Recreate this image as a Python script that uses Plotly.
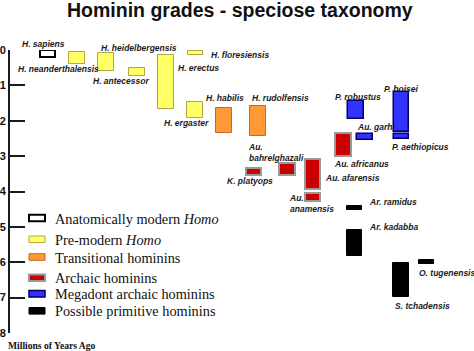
import plotly.graph_objects as go

# ---------------- data ----------------
species = [
    "H. sapiens", "H. neanderthalensis", "H. heidelbergensis", "H. antecessor",
    "H. erectus", "H. floresiensis", "H. ergaster", "H. habilis", "H. rudolfensis",
    "K. platyops", "Au. bahrelghazali", "Au. afarensis", "Au. anamensis", "Au. africanus",
    "P. robustus", "Au. garhi", "P. boisei", "P. aethiopicus",
    "Ar. ramidus", "Ar. kadabba", "O. tugenensis", "S. tchadensis",
]
grade = [
    "modern", "premodern", "premodern", "premodern",
    "premodern", "premodern", "premodern", "transitional", "transitional",
    "archaic", "archaic", "archaic", "archaic", "archaic",
    "megadont", "megadont", "megadont", "megadont",
    "primitive", "primitive", "primitive", "primitive",
]
# first and last appearance, millions of years ago
start_mya = [0.00, 0.05, 0.08, 0.50, 0.14, 0.02, 1.48, 1.63, 1.58,
             3.33, 3.20, 3.08, 4.04, 2.35,
             1.43, 2.38, 1.20, 2.37,
             4.40, 5.10, 5.93, 6.03]
end_mya = [0.20, 0.40, 0.60, 0.73, 1.68, 0.15, 1.93, 2.35, 2.42,
           3.52, 3.52, 3.92, 4.26, 3.01,
           1.96, 2.53, 2.33, 2.52,
           4.52, 5.82, 6.05, 6.99]

grade_order = ["modern", "premodern", "transitional", "archaic", "megadont", "primitive"]
grade_names = ["Anatomically modern <i>Homo</i>", "Pre-modern <i>Homo</i>",
               "Transitional hominins", "Archaic hominins",
               "Megadont archaic hominins", "Possible primitive hominins"]
y_ticks = [0, 1, 2, 3, 4, 5, 6, 7, 8]
y_title = "Millions of Years Ago"
title = "Hominin grades - speciose taxonomy"

# ---------------- layout / styling (pixel-based placement) ----------------
W, H = 474, 351
ML, MR, MT, MB = 10, 0, 50, 18
PW, PH = W - ML - MR, H - MT - MB

def px(xp):
    return (xp - ML) / PW

def py(yp):
    return (H - MB - yp) / PH

# horizontal column of each species (x axis is in pixel units)
col_x = [47.7, 77.0, 106.0, 137.0, 166.2, 195.5, 195.2, 224.2, 258.2,
         253.7, 287.2, 312.5, 312.5, 342.9,
         356.2, 365.0, 401.7, 401.7,
         354.3, 354.3, 426.3, 401.2]
box_w = 15.5

label_text = {
    "Au. bahrelghazali": "Au.<br>bahrelghazali",
    "Au. anamensis": "Au.<br>anamensis",
}
# label left edge and vertical centre, pixels
label_pos = [(20.7, 44), (16.7, 69), (100, 48), (91.7, 81.3),
             (176.7, 67.7), (210, 55), (163.3, 123.3), (205, 98.3), (250.7, 98.3),
             (226, 181), (246.7, 152.5), (324, 177.7), (288.3, 203.3), (333.3, 163.7),
             (334.3, 96.7), (355.7, 127.3), (383.3, 89), (390.7, 146.7),
             (367.7, 201.7), (367.7, 226.7), (418.3, 272.7), (394, 306)]

style = {
    "modern": dict(fill="#ffffff", line="#000000", lw=2),
    "premodern": dict(fill="#ffff66", line="#b5a642", lw=1),
    "transitional": dict(fill="#ff9933", line="#c8691a", lw=1),
    "archaic": dict(fill="#cc0000", line="#999999", lw=2),
    "megadont": dict(fill="#3333ff", line="#000066", lw=1.5),
    "primitive": dict(fill="#000000", line="#000000", lw=1),
}

SANS = "Liberation Sans, Arial, sans-serif"
SERIF = "Liberation Serif, Times New Roman, serif"
INK = "#111111"

fig = go.Figure()
for g in grade_order:
    idx = [i for i, gg in enumerate(grade) if gg == g]
    s = style[g]
    fig.add_trace(go.Bar(
        x=[col_x[i] for i in idx],
        base=[start_mya[i] for i in idx],
        y=[end_mya[i] - start_mya[i] for i in idx],
        width=box_w,
        marker=dict(color=s["fill"], line=dict(color=s["line"], width=s["lw"])),
        name=g, showlegend=False, hoverinfo="skip",
    ))

annotations = []
for i, sp in enumerate(species):
    lx, ly = label_pos[i]
    annotations.append(dict(
        x=px(lx), y=py(ly), xref="paper", yref="paper",
        text="<b><i>" + label_text.get(sp, sp) + "</i></b>",
        xanchor="left", yanchor="middle", align="left", showarrow=False,
        borderpad=0, font=dict(family=SANS, size=8.5, color="#1a1a1a"),
    ))

annotations.append(dict(
    x=px(240), y=py(10), xref="paper", yref="paper", text="<b>" + title + "</b>",
    xanchor="center", yanchor="middle", showarrow=False, borderpad=0,
    font=dict(family=SANS, size=19.5, color=INK),
))
annotations.append(dict(
    x=px(7), y=py(345), xref="paper", yref="paper", text="<b>" + y_title + "</b>",
    xanchor="left", yanchor="middle", showarrow=False, borderpad=0,
    font=dict(family=SERIF, size=9.6, color=INK),
))

# hand-drawn legend
leg_y = [218, 239.3, 257, 277.8, 293.8, 310.8]
shapes = []
for k, g in enumerate(grade_order):
    s = style[g]
    shapes.append(dict(
        type="rect", xref="paper", yref="paper",
        x0=px(29), x1=px(45), y0=py(leg_y[k] - 3.3), y1=py(leg_y[k] + 3.3),
        fillcolor=s["fill"], line=dict(color=s["line"], width=s["lw"] if g != "primitive" else 1),
    ))
    annotations.append(dict(
        x=px(54), y=py(leg_y[k] + 0.5), xref="paper", yref="paper",
        text=grade_names[k], xanchor="left", yanchor="middle", showarrow=False,
        borderpad=0, font=dict(family=SERIF, size=14.3, color=INK),
    ))

fig.update_layout(
    width=W, height=H, template="none",
    margin=dict(l=ML, r=MR, t=MT, b=MB, autoexpand=False),
    paper_bgcolor="white", plot_bgcolor="white",
    barmode="overlay", bargap=0,
    showlegend=False,
    annotations=annotations, shapes=shapes,
    xaxis=dict(range=[ML, W - MR], visible=False, fixedrange=True),
    yaxis=dict(
        range=[8, 0], tickvals=y_ticks, ticktext=[str(t) for t in y_ticks],
        ticks="inside", ticklen=15, tickwidth=2, tickcolor="#1a1a1a",
        showline=True, linewidth=2, linecolor="#1a1a1a",
        showgrid=False, zeroline=False, automargin=False,
        tickfont=dict(family=SANS, size=11, color=INK, weight="bold"),
        ticklabelstandoff=0,
    ),
)

fig.write_html("out.html")
